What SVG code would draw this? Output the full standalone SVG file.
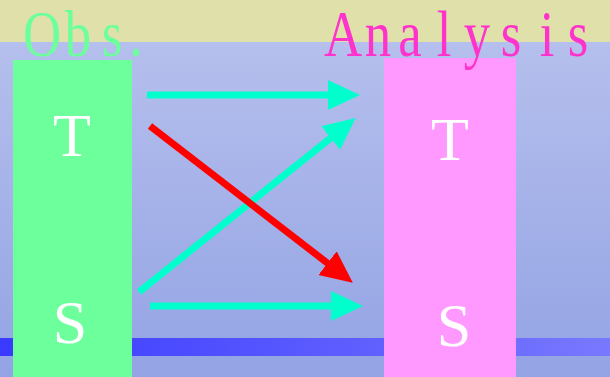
<svg xmlns="http://www.w3.org/2000/svg" width="610" height="377" viewBox="0 0 610 377">
<defs>
<linearGradient id="bg" x1="0" y1="0" x2="0" y2="1">
<stop offset="0" stop-color="#BAC3EE"/>
<stop offset="1" stop-color="#93A3E4"/>
</linearGradient>
<linearGradient id="bar" x1="0" y1="0" x2="1" y2="0">
<stop offset="0" stop-color="#3A3AFF"/>
<stop offset="1" stop-color="#7878FF"/>
</linearGradient>
<marker id="hc" markerUnits="userSpaceOnUse" markerWidth="32" markerHeight="32" viewBox="0 0 32 32" refX="12" refY="16" orient="auto">
<path d="M0,1 L32,16 L0,31 z" fill="#00FFCC"/>
</marker>
<marker id="hr" markerUnits="userSpaceOnUse" markerWidth="32" markerHeight="32" viewBox="0 0 32 32" refX="12" refY="16" orient="auto">
<path d="M0,1 L32,16 L0,31 z" fill="#FF0000"/>
</marker>
<style>
.lbl{font-family:"Liberation Serif",serif;font-size:62px;fill:#FFFFFF;text-anchor:middle}
.title{font-family:"Liberation Serif",serif;font-size:66px;text-anchor:middle}
.c{stroke:#00FFCC;stroke-width:7;fill:none}
.r{stroke:#FF0000;stroke-width:7;fill:none}
</style>
</defs>
<rect x="0" y="0" width="610" height="377" fill="url(#bg)"/>
<rect x="0" y="0" width="610" height="42" fill="#DFE0AA"/>
<rect x="0" y="338" width="610" height="18" fill="url(#bar)"/>
<g id="obs">
<rect x="13" y="60" width="119" height="317" fill="#6CFF9C"/>
<text class="title" transform="scale(0.8,1)" x="52.5 97.5 140 170" y="56" fill="#6CFF9C">Obs.</text>
</g>
<g id="analysis">
<rect x="384" y="58" width="132" height="319" fill="#FF99FF"/>
<text class="title" transform="scale(0.8,1)" x="428.75 472.5 512.5 555 596.25 638.75 683.75 722.5" y="56" fill="#FF33CC">Analysis</text>
</g>
<g id="obs-T"><text class="lbl" x="72" y="156">T</text></g>
<g id="obs-S"><text class="lbl" x="70" y="343">S</text></g>
<g id="ana-T"><text class="lbl" x="450" y="160">T</text></g>
<g id="ana-S"><text class="lbl" x="454" y="346">S</text></g>
<g id="connectors">
<line class="c" x1="147" y1="95" x2="340" y2="95" marker-end="url(#hc)"/>
<line class="c" x1="139" y1="292" x2="340" y2="130.5" marker-end="url(#hc)"/>
<line class="r" x1="150" y1="126" x2="337" y2="270.5" marker-end="url(#hr)"/>
<line class="c" x1="150" y1="306" x2="343" y2="306" marker-end="url(#hc)"/>
</g>
</svg>
